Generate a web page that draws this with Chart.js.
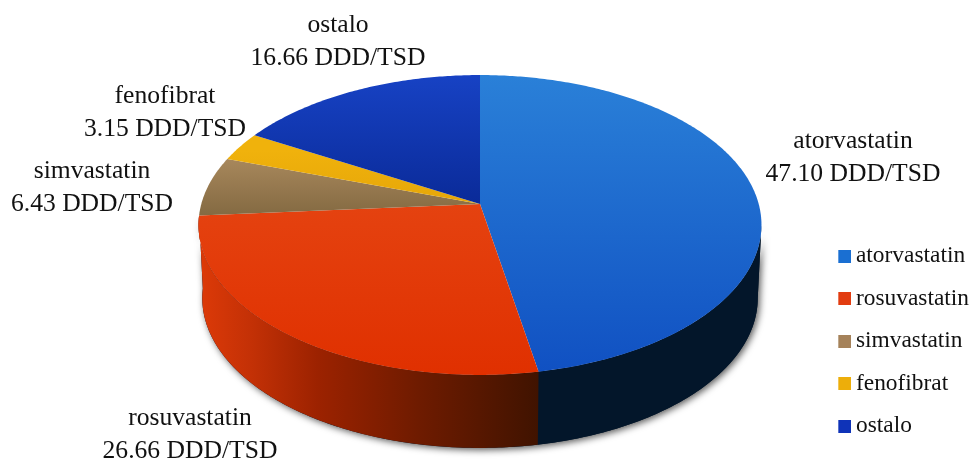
<!DOCTYPE html>
<html>
<head>
<meta charset="utf-8">
<script src="https://cdn.jsdelivr.net/npm/chart.js@4"></script>
<style>
  html, body { margin: 0; padding: 0; background: #fff; }
  #wrap { width: 969px; height: 461px; }
</style>
</head>
<body>
<div id="wrap"><canvas id="grafico" width="969" height="461"></canvas></div>
<script>
// dados
const categories = ['atorvastatin', 'rosuvastatin', 'simvastatin', 'fenofibrat', 'ostalo'];
const values = [47.10, 26.66, 6.43, 3.15, 16.66];
const unit = 'DDD/TSD';
const legendColors = ['#1a6fd2', '#e23c10', '#a5825a', '#edae0a', '#0f33b8'];

// aparência das fatias (gradiente vertical: alto -> baixo)
const faceColors = [
  ['#2a80d8', '#1050c2'],
  ['#e8501c', '#e03000'],
  ['#ad8c60', '#846a42'],
  ['#f0b20c', '#e4a408'],
  ['#1742c4', '#0a2a98']
];
const wallStops = {
  0: [[0, '#03182e'], [1, '#03162a']],
  1: [[0, '#dd3a08'], [0.15, '#c43106'], [0.35, '#9c2200'], [0.65, '#6e1b00'], [1, '#401300']]
};

// centro de cada rótulo
const labelAnchors = [[853, 141], [190, 418], [92, 171], [165, 96], [338, 25]];
const labelFont = '25.6px "Liberation Serif"';
const labelGap = 33;

// projeção em perspectiva do disco
const top3d = { x: 480, y: 204, r: 278.7, b: 147 };
const bottom3d = { x: 480, y: 277, r: 275, b: 147 };
const persp = 0.14;

function projetar(d, ang) {
  const t = ang + Math.PI / 2; // Chart.js começa em -90 graus
  const u = Math.sin(t), v = -Math.cos(t);
  const w = 1 - persp * v;
  return [d.x + d.r * u / w, d.y + d.b * v / w];
}

function tracarBorda(ctx, d, a0, a1) {
  const passos = Math.max(2, Math.ceil(Math.abs(a1 - a0) * 90));
  for (let i = 0; i <= passos; i++) {
    const p = projetar(d, a0 + (a1 - a0) * i / passos);
    ctx.lineTo(p[0], p[1]);
  }
}

function gradienteFace(ctx, i) {
  const g = ctx.createLinearGradient(0, i === 0 || i === 1 ? 75 : (i === 4 ? 75 : 150), 0, i === 4 ? 205 : (i === 2 || i === 3 ? 215 : 375));
  g.addColorStop(0, faceColors[i][0]);
  g.addColorStop(1, faceColors[i][1]);
  return g;
}

// quadradinho da legenda, deslocado para ficar perto do texto
function amostra(cor) {
  const c = document.createElement('canvas');
  c.width = 27;
  c.height = 13;
  const g = c.getContext('2d');
  g.fillStyle = cor;
  g.fillRect(14, 0, 13, 13);
  return c;
}

const pizza3d = {
  id: 'pizza3d',
  beforeDatasetsDraw(chart) {
    const ctx = chart.ctx;
    const arcos = chart.getDatasetMeta(0).data;
    // só as fatias da frente mostram a lateral
    const frente = arcos.map((a, i) => i).filter(i => arcos[i].startAngle + Math.PI / 2 < Math.PI);
    // a lateral só aparece a partir do ponto mais à direita do disco
    const ini = Math.acos(-persp) - Math.PI / 2;
    const fim = arcos[frente[frente.length - 1]].endAngle;

    // sombra
    ctx.save();
    ctx.shadowColor = 'rgba(0,0,0,0.65)';
    ctx.shadowBlur = 7;
    ctx.shadowOffsetX = 2;
    ctx.shadowOffsetY = 2;
    ctx.fillStyle = '#03162a';
    ctx.beginPath();
    tracarBorda(ctx, top3d, ini, fim);
    tracarBorda(ctx, bottom3d, fim, ini);
    ctx.closePath();
    ctx.fill();
    ctx.restore();

    // lateral
    frente.forEach(i => {
      const a = arcos[i];
      const p0 = projetar(top3d, a.startAngle), p1 = projetar(top3d, a.endAngle);
      const stops = wallStops[i] || wallStops[0];
      // gradiente sempre do lado esquerdo (claro) para o direito (escuro)
      const gEsq = ctx.createLinearGradient(Math.min(p0[0], p1[0]), 0, Math.max(p0[0], p1[0]), 0);
      stops.forEach(s => gEsq.addColorStop(s[0], s[1]));
      ctx.fillStyle = gEsq;
      ctx.beginPath();
      tracarBorda(ctx, top3d, Math.max(a.startAngle, ini), a.endAngle);
      tracarBorda(ctx, bottom3d, a.endAngle, Math.max(a.startAngle, ini));
      ctx.closePath();
      ctx.fill();
    });

    // topo
    arcos.forEach((a, i) => {
      ctx.fillStyle = gradienteFace(ctx, i);
      ctx.beginPath();
      ctx.moveTo(top3d.x, top3d.y);
      tracarBorda(ctx, top3d, a.startAngle, a.endAngle);
      ctx.closePath();
      ctx.fill();
    });

    // rótulos
    ctx.save();
    ctx.font = labelFont;
    ctx.fillStyle = '#111';
    ctx.textAlign = 'center';
    ctx.textBaseline = 'middle';
    categories.forEach((nome, i) => {
      const [x, y] = labelAnchors[i];
      ctx.fillText(nome, x, y);
      ctx.fillText(values[i].toFixed(2) + ' ' + unit, x, y + labelGap);
    });
    ctx.restore();
    return false;
  }
};

new Chart(document.getElementById('grafico'), {
  type: 'pie',
  data: {
    labels: categories,
    datasets: [{ data: values, backgroundColor: legendColors, borderWidth: 0 }]
  },
  options: {
    responsive: false,
    animation: false,
    layout: { padding: { right: -10, bottom: 4 } },
    plugins: {
      tooltip: { enabled: false },
      legend: {
        position: 'right',
        align: 'end',
        labels: {
          boxWidth: 13,
          boxHeight: 13,
          padding: 19.1,
          usePointStyle: true,
          color: '#111',
          font: { family: '"Liberation Serif"', size: 23.4 },
          generateLabels(chart) {
            const itens = Chart.overrides.pie.plugins.legend.labels.generateLabels(chart);
            itens.forEach((item, i) => { item.pointStyle = amostra(legendColors[i]); });
            return itens;
          }
        }
      }
    }
  },
  plugins: [pizza3d]
});
</script>
</body>
</html>
